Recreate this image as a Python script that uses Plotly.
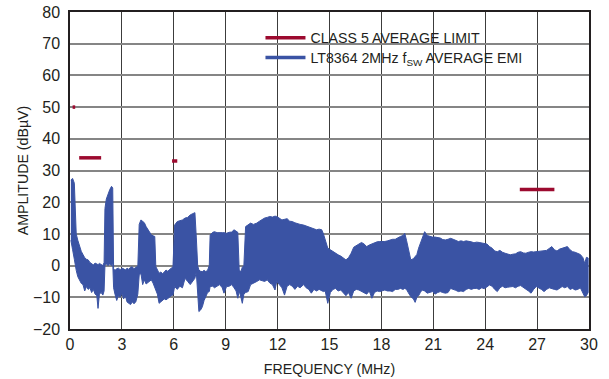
import plotly.graph_objects as go

# ---------------- data ----------------
limit_f_start = [0.15, 0.53, 5.9, 26.0]
limit_f_end = [0.30, 1.80, 6.2, 28.0]
limit_level = [50, 34, 33, 24]

emi_freq = [0.05, 0.15, 0.25, 0.3, 0.36, 0.45, 0.55, 0.65, 0.75, 0.85, 0.95, 1.05, 1.15, 1.25, 1.35,
            1.45, 1.55, 1.62, 1.7, 1.8, 1.9, 1.97, 2.02, 2.1, 2.2, 2.3, 2.4, 2.47, 2.52, 2.6,
            2.7, 2.8, 2.9, 3.0, 3.1, 3.2, 3.3, 3.4, 3.5, 3.6, 3.7, 3.8, 3.92, 4.0, 4.1,
            4.2, 4.3, 4.4, 4.5, 4.6, 4.7, 4.8, 4.9, 4.96, 5.05, 5.15, 5.25, 5.35, 5.45, 5.55,
            5.65, 5.75, 5.85, 5.95, 6.05, 6.2, 6.35, 6.5, 6.65, 6.8, 6.95, 7.1, 7.22, 7.3, 7.38,
            7.45, 7.55, 7.65, 7.75, 7.85, 7.95, 8.05, 8.1, 8.25, 8.35, 8.5, 8.65, 8.8, 8.9, 9.05,
            9.2, 9.35, 9.48, 9.6, 9.7, 9.78, 9.88, 9.96, 10.05, 10.15, 10.3, 10.44, 10.6, 10.8, 10.95,
            11.1, 11.25, 11.4, 11.55, 11.7, 11.85, 11.95, 12.1, 12.25, 12.4, 12.55, 12.7, 12.85, 13.0, 13.15,
            13.3, 13.5, 13.65, 13.8, 13.95, 14.1, 14.25, 14.4, 14.55, 14.65, 14.75, 14.9, 15.05, 15.2, 15.35,
            15.5, 15.65, 15.8, 15.95, 16.1, 16.25, 16.4, 16.55, 16.7, 16.85, 17.0, 17.15, 17.3, 17.45, 17.6,
            17.75, 17.9, 18.05, 18.2, 18.35, 18.5, 18.65, 18.8, 18.95, 19.1, 19.25, 19.35, 19.45, 19.55, 19.7,
            19.85, 19.95, 20.05, 20.15, 20.25, 20.35, 20.5, 20.65, 20.8, 20.95, 21.1, 21.25, 21.4, 21.55, 21.7,
            21.85, 22.0, 22.15, 22.3, 22.45, 22.6, 22.75, 22.9, 23.05, 23.2, 23.35, 23.5, 23.65, 23.8, 23.95,
            24.1, 24.25, 24.4, 24.55, 24.7, 24.85, 25.0, 25.15, 25.3, 25.45, 25.6, 25.75, 25.9, 26.05, 26.2,
            26.35, 26.5, 26.65, 26.8, 26.95, 27.1, 27.25, 27.4, 27.55, 27.7, 27.85, 28.0, 28.15, 28.3, 28.45,
            28.6, 28.75, 28.9, 29.05, 29.2, 29.35, 29.5, 29.65, 29.75, 29.85, 29.95]

emi_upper = [27, 27.5, 26, 15, 10, 8, 6, 4.5, 3.5, 2.5, 2, 1.8, 1, 0.5, 0.2,
             0.8, 0.5, 0.3, 0.7, 0.2, 0, 1, 18, 21, 22.8, 24, 25, 24.5, -1, -1.5,
             -1, -0.8, -1.3, -0.8, -1, -1.4, -0.8, -1.2, -0.5, -0.4, -1, -0.5, -0.3, 13, 14.4,
             14, 13.5, 12.3, 11.3, 10.5, 9.7, 9.4, 9.2, -0.3, -1.5, -2.4, -2, -2.6, -2, -1.4,
             -1.8, -1.2, -0.8, -0.5, 12.8, 13.9, 14.2, 14.4, 15, 15.2, 16, 16.3, 16.7, 9, 0,
             -1.4, -1.8, -1.9, -1.5, -1.9, -1.5, 0, 9.7, 10.5, 10.7, 10.4, 10.3, 10.4, 10.4, 10.2,
             10.5, 10.6, 11.3, 10.8, 10.5, -1.4, -1.9, -0.5, 0, 12.3, 12.8, 13.4, 13, 13.4, 14,
             14.5, 15, 15.2, 15.5, 15.3, 15.6, 15.5, 14.8, 14.4, 14.6, 14.8, 14, 13.9, 13.5, 13.2,
             13, 12.8, 12.5, 12, 11.8, 11.5, 11.3, 11.5, 11.3, 10, 8.1, 5.5, 5, 4.4, 4,
             3.4, 3, 2.3, 1.8, 2.5, 3.9, 5.8, 6.3, 6.8, 7.3, 6.8, 6, 6.5, 6.8, 7.3,
             7.5, 7.6, 7.5, 7.6, 7.8, 8.1, 8.3, 8.3, 8.8, 9.2, 9.5, 10.2, 8, 5, 1.8,
             2.2, 2.8, 3.5, 5.5, 7, 8.6, 10.7, 9.5, 9.2, 9, 9, 8.8, 8.7, 8.2, 8.1,
             8.3, 8.6, 8.3, 8, 7.6, 7.8, 7.6, 7.8, 7.7, 7.5, 7.2, 7.4, 7.3, 7.2, 7,
             6.8, 6, 5.5, 4.6, 4.4, 4.8, 4.2, 3.9, 3.6, 3.4, 3.6, 3.7, 4.2, 4.4, 4,
             3.9, 4.2, 4.4, 4.3, 4.4, 4.5, 4.4, 4.6, 4.8, 5.4, 6, 5, 4.6, 5.2, 5.5,
             5.8, 6, 5, 4.4, 4.2, 3.9, 3.5, 2.5, 0.7, 2.6, 2.4]

emi_lower = [8, 5, 2, 0, -1.5, -3.5, -4.5, -5.6, -6, -8, -6.6, -7.5, -7, -8.5, -7.5,
             -9, -9.5, -13.5, -9, -8.5, -9.3, -8, 0, 0.5, 0, 0.5, 0, 1, -7, -9,
             -11, -9.5, -10, -8.7, -10.5, -9.5, -11.5, -12, -12.3, -11.5, -12, -11.5, -9, -3, -2.5,
             -6, -4.5, -5.8, -5.5, -5, -4.5, -5.5, -6.5, -7.7, -9, -11.9, -11.5, -11, -10.5, -10.8,
             -10.3, -10, -9.5, -9.3, -6.6, -7.5, -6.5, -7, -4, -5, -6, -5, -4, -2, -9,
             -14.5, -14, -13, -11, -9.8, -8.5, -8.2, -6.6, -6.5, -7, -6.6, -6, -7, -8.7, -6.6,
             -6.5, -6, -7, -8, -10.3, -8, -10, -11.9, -9, -8.5, -8.2, -6, -5.5, -5, -4.5,
             -4.8, -5, -4.5, -5.5, -6, -7.7, -5, -6, -7, -9.3, -6.5, -6, -6.5, -7.5, -6.5,
             -7, -6, -7, -7.5, -8.7, -7.5, -8, -7.5, -8, -8.2, -8, -11.9, -8.5, -7.5, -7.2,
             -8, -7.7, -8.5, -9.5, -8.5, -10.3, -8, -7.5, -7.7, -8, -8.5, -9, -8, -10.3, -8.5,
             -8, -8.2, -8, -7.7, -8, -8, -8.2, -7.5, -7.5, -7.2, -7.5, -7.2, -7.5, -8.5, -9.8,
             -10.5, -11.6, -10, -9.5, -8.5, -7.7, -8, -8.7, -8.5, -8.2, -9, -8.5, -8.2, -8.5, -8.7,
             -8.5, -7.2, -7.5, -7.8, -8.2, -8, -8.2, -7.5, -7.2, -7.5, -7.2, -7.2, -7.5, -7, -7.3,
             -6.8, -6.1, -6.5, -7.5, -8.2, -7, -6.5, -7, -6.8, -6.6, -6.6, -7, -6.5, -6.3, -7,
             -7.5, -8, -8.7, -7.5, -6.6, -7, -7.5, -8.2, -7.5, -7, -7.2, -7.5, -7.7, -7.2, -6.6,
             -7, -6.6, -7.5, -7.2, -7.7, -7.5, -7, -8.5, -9.8, -9.5, -8.5]

x_ticks = [0, 3, 6, 9, 12, 15, 18, 21, 24, 27, 30]
y_ticks = [-20, -10, 0, 10, 20, 30, 40, 50, 60, 70, 80]

RED = "#9c0a2f"
BLUE = "#3a53a4"
FONT = "Liberation Sans, Arial, sans-serif"
TXT = "#231f20"
LABEL_SIZE = 14.2

# limit segments (None separated)
lim_x, lim_y = [], []
for a, b, v in zip(limit_f_start, limit_f_end, limit_level):
    lim_x += [a, b, None]
    lim_y += [v, v, None]

fig = go.Figure()

# EMI band polygon
fig.add_trace(go.Scatter(
    x=emi_freq + emi_freq[::-1], y=emi_upper + emi_lower[::-1],
    mode="lines", fill="toself", fillcolor=BLUE,
    line=dict(color=BLUE, width=1), showlegend=False, hoverinfo="skip"))

fig.add_trace(go.Scatter(x=lim_x, y=lim_y, mode="lines",
                         line=dict(color=RED, width=3.5),
                         name="CLASS 5 AVERAGE LIMIT", legend="legend"))
fig.add_trace(go.Scatter(x=[None], y=[None], mode="lines",
                         line=dict(color=BLUE, width=3.5),
                         name="LT8364 2MHz f<sub>SW</sub> AVERAGE EMI", legend="legend2"))

# white box behind the legend, above the gridlines
fig.add_shape(type="rect", xref="paper", yref="paper",
              x0=0.363, x1=0.95, y0=0.797, y1=0.984,
              fillcolor="white", line=dict(width=0), layer="between")

leg_common = dict(xanchor="left", yanchor="middle", bgcolor="rgba(0,0,0,0)",
                  borderwidth=0, font=dict(family=FONT, size=LABEL_SIZE, color=TXT),
                  itemwidth=40)

fig.update_layout(
    width=609, height=379,
    margin=dict(l=70, r=20, t=12, b=50),
    paper_bgcolor="white", plot_bgcolor="white",
    font=dict(family=FONT, size=LABEL_SIZE, color=TXT),
    showlegend=True,
    legend=dict(x=0.367, y=0.918, **leg_common),
    legend2=dict(x=0.367, y=0.856, **leg_common),
    xaxis=dict(range=[0, 30], tickvals=x_ticks, ticktext=[str(t) for t in x_ticks],
               tickfont=dict(family=FONT, size=16, color=TXT),
               showgrid=True, gridcolor="#3c3c3c", gridwidth=1.2,
               showline=True, linecolor=TXT, linewidth=1.5, mirror=True,
               ticks="", zeroline=False, automargin=False, ticklabelstandoff=0,
               title=dict(text="FREQUENCY (MHz)", standoff=12,
                          font=dict(family=FONT, size=LABEL_SIZE, color=TXT))),
    yaxis=dict(range=[-20, 80], tickvals=y_ticks,
               ticktext=[("\u2212" + str(-t)) if t < 0 else str(t) for t in y_ticks],
               tickfont=dict(family=FONT, size=16, color=TXT),
               showgrid=True, gridcolor="#858585", gridwidth=1.6,
               showline=True, linecolor=TXT, linewidth=1.5, mirror=True,
               ticks="", zeroline=False, automargin=False, ticklabelstandoff=5,
               title=dict(text="AMPLITUDE (dBµV)", standoff=1,
                          font=dict(family=FONT, size=LABEL_SIZE, color=TXT))),
)

fig.write_html("out.html", config={"displayModeBar": False},
               post_script="document.body.style.margin='0';document.body.style.overflow='hidden';")
